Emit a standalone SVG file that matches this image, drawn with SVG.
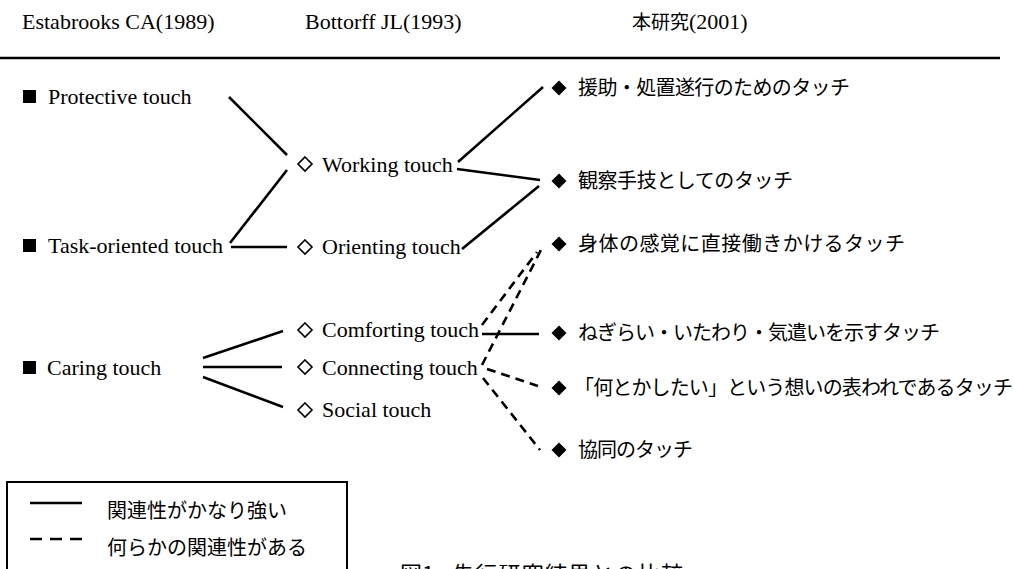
<svg xmlns="http://www.w3.org/2000/svg" width="1014" height="569" viewBox="0 0 1014 569">
<style>
.en{font-family:"Liberation Serif","Times New Roman",serif;font-size:22px;fill:#000}
.hd{font-family:"Liberation Serif","Times New Roman",serif;font-size:22px;fill:#000}
.jp{font-family:"Noto Sans CJK JP","Noto Sans",sans-serif;font-size:20px;fill:#000}
.sq{fill:#000}
.od{fill:#fff;stroke:#000;stroke-width:1.6}
.fd{fill:#000}
.s{stroke:#000;stroke-width:2.6;fill:none}
.d{stroke:#000;stroke-width:2.6;fill:none;stroke-dasharray:9 6}
</style>
<rect width="1014" height="569" fill="#fff"/>
<g id="header">
<text class="hd" x="22" y="29">Estabrooks CA(1989)</text>
<text class="hd" x="305" y="29">Bottorff JL(1993)</text>
<text class="hd" x="632" y="29"><tspan style="font-family:'Noto Sans CJK JP',sans-serif;font-size:19px">本研究</tspan>(2001)</text>
<line x1="0" y1="58" x2="1000" y2="58" stroke="#000" stroke-width="2.5"/>
</g>
<g id="connectors">
<line class="s" x1="229" y1="97" x2="287" y2="155"/>
<line class="s" x1="230" y1="243" x2="287" y2="170"/>
<line class="s" x1="231" y1="247" x2="287" y2="247"/>
<line class="s" x1="458" y1="162" x2="543" y2="87"/>
<line class="s" x1="457" y1="169" x2="540" y2="180"/>
<line class="s" x1="462" y1="249" x2="539" y2="186"/>
<line class="s" x1="203" y1="358" x2="283" y2="331"/>
<line class="s" x1="203" y1="367" x2="282" y2="367"/>
<line class="s" x1="203" y1="377" x2="283" y2="407"/>
<line class="s" x1="482" y1="334" x2="539" y2="334"/>
<line class="d" x1="482" y1="325" x2="537" y2="252"/>
<line class="d" x1="482" y1="365" x2="542" y2="248"/>
<line class="d" x1="487" y1="369" x2="538" y2="386"/>
<line class="d" x1="483" y1="378" x2="540" y2="450"/>
</g>
<g id="n-protective">
<rect class="sq" x="23" y="90" width="13" height="13"/>
<text class="en" x="48" y="104">Protective touch</text>
</g>
<g id="n-task">
<rect class="sq" x="23" y="239" width="13" height="13"/>
<text class="en" x="48" y="253">Task-oriented touch</text>
</g>
<g id="n-caring">
<rect class="sq" x="23" y="361" width="13" height="13"/>
<text class="en" x="47" y="375">Caring touch</text>
</g>
<g id="n-working">
<polygon class="od" points="305,157 312,164 305,171 298,164"/>
<text class="en" x="322" y="172">Working touch</text>
</g>
<g id="n-orienting">
<polygon class="od" points="305,240 312,247 305,254 298,247"/>
<text class="en" x="322" y="254">Orienting touch</text>
</g>
<g id="n-comforting">
<polygon class="od" points="305,323 312,330 305,337 298,330"/>
<text class="en" x="322" y="337">Comforting touch</text>
</g>
<g id="n-connecting">
<polygon class="od" points="305,360 312,367 305,374 298,367"/>
<text class="en" x="322" y="375">Connecting touch</text>
</g>
<g id="n-social">
<polygon class="od" points="305,403 312,410 305,417 298,410"/>
<text class="en" x="322" y="417">Social touch</text>
</g>
<g id="n-enjo">
<polygon class="fd" points="559,80.5 566.5,88 559,95.5 551.5,88"/>
<text class="jp" x="578" y="95" textLength="272">援助・処置遂行のためのタッチ</text>
</g>
<g id="n-kansatsu">
<polygon class="fd" points="559,173.5 566.5,181 559,188.5 551.5,181"/>
<text class="jp" x="578" y="188" textLength="215">観察手技としてのタッチ</text>
</g>
<g id="n-shintai">
<polygon class="fd" points="559,236.5 566.5,244 559,251.5 551.5,244"/>
<text class="jp" x="578" y="251" textLength="327">身体の感覚に直接働きかけるタッチ</text>
</g>
<g id="n-negirai">
<polygon class="fd" points="559,325.5 566.5,333 559,340.5 551.5,333"/>
<text class="jp" x="578" y="340" textLength="362">ねぎらい・いたわり・気遣いを示すタッチ</text>
</g>
<g id="n-nantoka">
<polygon class="fd" points="559,380.5 566.5,388 559,395.5 551.5,388"/>
<text class="jp" x="574" y="395" textLength="439">「何とかしたい」という想いの表われであるタッチ</text>
</g>
<g id="n-kyodo">
<polygon class="fd" points="559,442.5 566.5,450 559,457.5 551.5,450"/>
<text class="jp" x="578" y="457" textLength="115">協同のタッチ</text>
</g>
<g id="legend">
<rect x="7" y="482" width="340" height="110" fill="none" stroke="#000" stroke-width="2"/>
<line x1="30" y1="503" x2="82" y2="503" stroke="#000" stroke-width="2.5"/>
<text class="jp" x="107" y="518">関連性がかなり強い</text>
<line x1="30" y1="539" x2="82" y2="539" stroke="#000" stroke-width="2.5" stroke-dasharray="12 8"/>
<text class="jp" x="107" y="555">何らかの関連性がある</text>
</g>
<g id="caption">
<text class="jp" x="400" y="582" style="font-size:22px">図1</text>
<text class="jp" x="452" y="582" style="font-size:22px" textLength="231">先行研究結果との比較</text>
</g>
</svg>
